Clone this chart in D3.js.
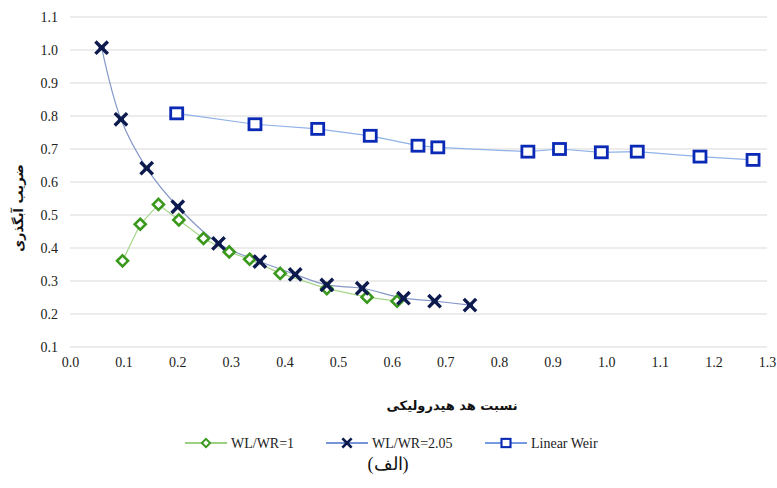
<!DOCTYPE html>
<html>
<head>
<meta charset="utf-8">
<script src="https://cdn.jsdelivr.net/npm/d3@7"></script>
<style>
  html, body { margin: 0; padding: 0; background: #ffffff; }
  svg { display: block; }
</style>
</head>
<body>
<svg id="chart" width="777" height="488"></svg>
<script>
// Hydraulic head ratio (x) vs. discharge coefficient (y)
const xTicks = [0.0, 0.1, 0.2, 0.3, 0.4, 0.5, 0.6, 0.7, 0.8, 0.9, 1.0, 1.1, 1.2, 1.3];
const yTicks = [0.1, 0.2, 0.3, 0.4, 0.5, 0.6, 0.7, 0.8, 0.9, 1.0, 1.1];

const seriesNames = ["WL/WR=1", "WL/WR=2.05", "Linear Weir"];

const wl1X = [0.098, 0.131, 0.165, 0.203, 0.249, 0.297, 0.335, 0.392, 0.479, 0.554, 0.610];
const wl1Y = [0.361, 0.472, 0.532, 0.485, 0.429, 0.388, 0.366, 0.323, 0.277, 0.251, 0.239];

const wl205X = [0.059, 0.095, 0.143, 0.201, 0.277, 0.354, 0.420, 0.479, 0.545, 0.622, 0.680, 0.746];
const wl205Y = [1.007, 0.790, 0.642, 0.525, 0.414, 0.359, 0.320, 0.288, 0.278, 0.248, 0.239, 0.227];

const linX = [0.199, 0.345, 0.462, 0.560, 0.649, 0.686, 0.854, 0.913, 0.991, 1.058, 1.175, 1.274];
const linY = [0.808, 0.775, 0.761, 0.740, 0.710, 0.705, 0.692, 0.700, 0.690, 0.692, 0.677, 0.667];

const xTitle = "نسبت هد هیدرولیکی";
const yTitle = "ضریب آبگذری";
const caption = "(الف)";

const SERIF = "Liberation Serif";
const FA = "DejaVu Sans";

const svg = d3.select("#chart");

const plot = { left: 70, right: 767, top: 17, bottom: 347 };
const x = d3.scaleLinear().domain([0, 1.3]).range([plot.left, plot.right]);
const y = d3.scaleLinear().domain([0.1, 1.1]).range([plot.bottom, plot.top]);

// horizontal gridlines
svg.append("g")
  .selectAll("line")
  .data(yTicks)
  .join("line")
  .attr("x1", plot.left).attr("x2", plot.right)
  .attr("y1", d => y(d)).attr("y2", d => y(d))
  .attr("stroke", "#d9d9d9").attr("stroke-width", 1);

// y axis labels
const yAxis = d3.axisLeft(y).tickValues(yTicks).tickFormat(d3.format(".1f")).tickSize(0).tickPadding(12);
const gy = svg.append("g").attr("transform", `translate(${plot.left},0)`).call(yAxis)
  .attr("font-family", SERIF).attr("font-size", 14);
gy.select(".domain").remove();
gy.selectAll("text").style("font-family", SERIF).attr("fill", "#222");

// x axis labels
const xAxis = d3.axisBottom(x).tickValues(xTicks).tickFormat(d3.format(".1f")).tickSize(0).tickPadding(10);
const gx = svg.append("g").attr("transform", `translate(0,${plot.bottom})`).call(xAxis)
  .attr("font-family", SERIF).attr("font-size", 14);
gx.select(".domain").remove();
gx.selectAll("text").style("font-family", SERIF).attr("fill", "#222");

// series definitions
const series = [
  { name: seriesNames[0], xs: wl1X, ys: wl1Y, line: "#a6d68a", legendLine: "#7cc05a", mark: "#3a981c", shape: "diamond", curve: d3.curveLinear },
  { name: seriesNames[1], xs: wl205X, ys: wl205Y, line: "#8598c8", legendLine: "#4a70c8", mark: "#0c1a4d", shape: "cross", curve: d3.curveCatmullRom.alpha(0.5) },
  { name: seriesNames[2], xs: linX, ys: linY, line: "#8fb2e8", legendLine: "#4a7ad6", mark: "#0a2ab5", shape: "square", curve: d3.curveLinear }
];

function drawMarker(g, shape, color, k) {
  if (shape === "diamond") {
    g.append("path").attr("d", `M0,${-5.5 * k}L${5.5 * k},0L0,${5.5 * k}L${-5.5 * k},0Z`)
      .attr("fill", "#fff").attr("stroke", color).attr("stroke-width", 2.6 * k);
  } else if (shape === "square") {
    g.append("rect").attr("x", -6 * k).attr("y", -5.5 * k).attr("width", 12 * k).attr("height", 11 * k)
      .attr("fill", "#fff").attr("stroke", color).attr("stroke-width", 2.8 * k);
  } else {
    const a = 5 * k;
    g.append("path").attr("d", `M${-a},${-a}L${a},${a}M${-a},${a}L${a},${-a}`)
      .attr("stroke", color).attr("stroke-width", 3.4 * k).attr("stroke-linecap", "square");
    g.append("path").attr("d", `M${-3 * k},0L${3 * k},0`)
      .attr("stroke", color).attr("stroke-width", 2.5 * k);
  }
}

series.forEach(s => {
  const pts = s.xs.map((v, i) => [v, s.ys[i]]);
  const line = d3.line().x(d => x(d[0])).y(d => y(d[1])).curve(s.curve);
  svg.append("path").datum(pts)
    .attr("d", line).attr("fill", "none")
    .attr("stroke", s.line).attr("stroke-width", 1.2);
});

series.forEach(s => {
  const pts = s.xs.map((v, i) => [v, s.ys[i]]);
  svg.append("g").selectAll("g")
    .data(pts)
    .join("g")
    .attr("transform", d => `translate(${x(d[0])},${y(d[1])})`)
    .each(function () { drawMarker(d3.select(this), s.shape, s.mark, 1); });
});

// axis titles
svg.append("text")
  .attr("x", 452).attr("y", 410)
  .attr("text-anchor", "middle").attr("direction", "rtl")
  .style("font-family", FA).style("font-size", "13px").attr("font-weight", "bold").attr("fill", "#111")
  .text(xTitle);

svg.append("text")
  .attr("transform", "translate(23,208) rotate(-90)")
  .attr("text-anchor", "middle").attr("direction", "rtl")
  .style("font-family", FA).style("font-size", "13px").attr("font-weight", "bold").attr("fill", "#111")
  .text(yTitle);

// legend
const legendX = [185, 326, 485];
series.forEach((s, i) => {
  const g = svg.append("g").attr("transform", `translate(${legendX[i]},443)`);
  g.append("line").attr("x1", 0).attr("x2", 42).attr("y1", 0).attr("y2", 0)
    .attr("stroke", s.legendLine).attr("stroke-width", 1.3);
  const m = g.append("g").attr("transform", "translate(21,0)");
  drawMarker(m, s.shape, s.mark, 0.75);
  g.append("text").attr("x", 46).attr("y", 5)
    .style("font-family", SERIF).style("font-size", "14px").attr("fill", "#222")
    .text(s.name);
});

// caption
svg.append("text")
  .attr("x", 388).attr("y", 470)
  .attr("text-anchor", "middle")
  .style("font-family", SERIF).style("font-size", "18px").attr("fill", "#111")
  .text(caption);
</script>
</body>
</html>
